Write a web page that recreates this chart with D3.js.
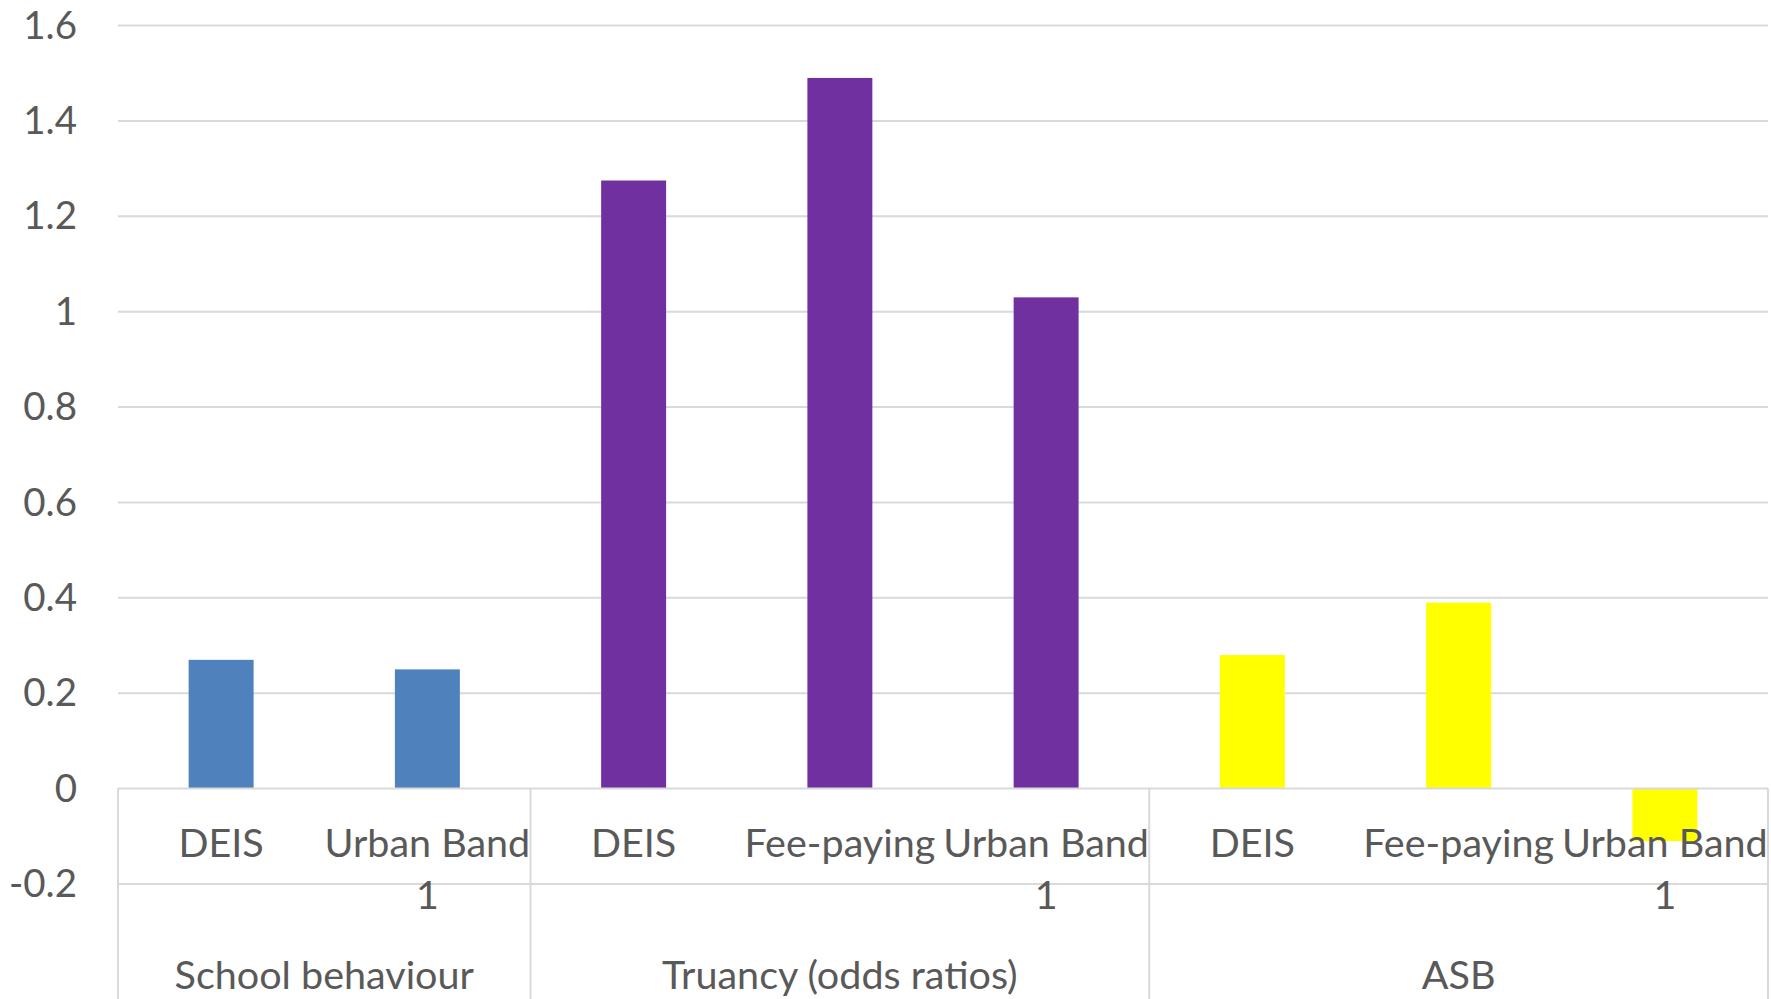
<!DOCTYPE html>
<html>
<head>
<meta charset="utf-8">
<script src="https://cdn.jsdelivr.net/npm/d3@7"></script>
<style>
  html, body { margin: 0; padding: 0; background: #ffffff; }
  svg { display: block; }
  text { font-family: Lato, "Noto Sans", sans-serif; fill: #595959; }
</style>
</head>
<body>
<svg id="chart" width="1771" height="999"></svg>
<script>
// Outcome groups and their bar colours
const groups = ["School behaviour", "Truancy (odds ratios)", "ASB"];
const groupColors = ["#4f81bd", "#7030a0", "#ffff00"];

// School-type categories, in plotting order, with the group each belongs to
const categories = ["DEIS", "Urban Band 1", "DEIS", "Fee-paying", "Urban Band 1", "DEIS", "Fee-paying", "Urban Band 1"];
const categoryGroup = [0, 0, 1, 1, 1, 2, 2, 2];

// Coefficients per category
const values = [0.27, 0.25, 1.275, 1.49, 1.03, 0.28, 0.39, -0.11];

// Value-axis ticks
const yTicks = [-0.2, 0, 0.2, 0.4, 0.6, 0.8, 1.0, 1.2, 1.4, 1.6];

const W = 1771, H = 999;
const plot = { left: 118, right: 1768, top: 25.5, bottom: 884 };
const fontSize = 39.5;
const tickFontSize = 38.5;
const gridColor = "#d9d9d9";

const svg = d3.select("#chart");

const x = d3.scaleBand()
  .domain(d3.range(categories.length))
  .range([plot.left, plot.right])
  .padding(0);
const step = x.step();
const barW = step * 0.315;

const y = d3.scaleLinear()
  .domain([d3.min(yTicks), d3.max(yTicks)])
  .range([plot.bottom, plot.top]);

// Horizontal gridlines
svg.append("g")
  .selectAll("line")
  .data(yTicks.filter(t => t !== 0))
  .join("line")
  .attr("x1", plot.left).attr("x2", plot.right)
  .attr("y1", d => y(d)).attr("y2", d => y(d))
  .attr("stroke", gridColor).attr("stroke-width", 2);

// Bars
svg.append("g")
  .selectAll("rect")
  .data(values)
  .join("rect")
  .attr("x", (d, i) => x(i) + (step - barW) / 2)
  .attr("width", barW)
  .attr("y", d => y(Math.max(0, d)))
  .attr("height", d => Math.abs(y(d) - y(0)))
  .attr("fill", (d, i) => groupColors[categoryGroup[i]]);

// Category axis line and group separators
const axisG = svg.append("g");
axisG.append("line")
  .attr("x1", plot.left).attr("x2", plot.right)
  .attr("y1", y(0)).attr("y2", y(0))
  .attr("stroke", gridColor).attr("stroke-width", 2);

const groupBounds = groups.map((g, gi) => {
  const idx = categoryGroup.map((c, i) => c === gi ? i : -1).filter(i => i >= 0);
  return { name: g, x0: x(idx[0]), x1: x(idx[idx.length - 1]) + step };
});
const sepXs = [plot.left].concat(groupBounds.map(b => b.x1));
axisG.selectAll("line.sep")
  .data(sepXs)
  .join("line")
  .attr("class", "sep")
  .attr("x1", d => d).attr("x2", d => d)
  .attr("y1", y(0)).attr("y2", H)
  .attr("stroke", gridColor).attr("stroke-width", 2);

// Y axis labels
const yAxis = d3.axisLeft(y)
  .tickValues(yTicks)
  .tickSize(0)
  .tickPadding(0)
  .tickFormat(d => String(+d.toFixed(1)));
const yG = svg.append("g")
  .attr("transform", "translate(77,0)")
  .call(yAxis);
yG.select(".domain").remove();
yG.selectAll("text")
  .attr("font-family", "Lato, 'Noto Sans', sans-serif")
  .attr("font-size", tickFontSize)
  .attr("fill", "#595959")
  .attr("dy", "0.33em");

// Category labels, wrapped to the width of each category slot
const measurer = svg.append("text").attr("font-size", fontSize).attr("visibility", "hidden");
function textWidth(s) { measurer.text(s); return measurer.node().getComputedTextLength(); }
function wrapLines(label, maxW) {
  const words = label.split(" ");
  const lines = [];
  let cur = words[0];
  for (let k = 1; k < words.length; k++) {
    const trial = cur + " " + words[k];
    if (textWidth(trial) > maxW) { lines.push(cur); cur = words[k]; }
    else cur = trial;
  }
  lines.push(cur);
  return lines;
}

const row1Baseline = 857, lineGap = 51.5;
const catG = svg.append("g");
categories.forEach((c, i) => {
  const lines = wrapLines(c, step);
  const t = catG.append("text")
    .attr("text-anchor", "middle")
    .attr("font-size", fontSize);
  lines.forEach((ln, k) => {
    t.append("tspan")
      .attr("x", x(i) + step / 2)
      .attr("y", row1Baseline + k * lineGap)
      .text(ln);
  });
});
measurer.remove();

// Group labels
svg.append("g")
  .selectAll("text")
  .data(groupBounds)
  .join("text")
  .attr("x", d => (d.x0 + d.x1) / 2)
  .attr("y", 988.5)
  .attr("text-anchor", "middle")
  .attr("font-size", fontSize)
  .text(d => d.name);
</script>
</body>
</html>
